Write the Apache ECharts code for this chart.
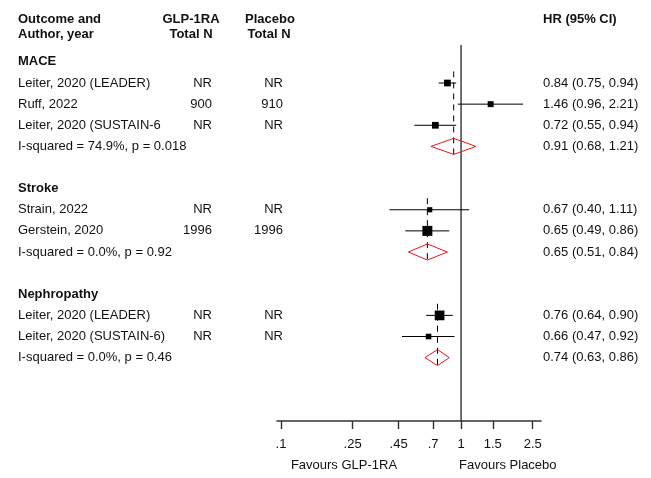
<!DOCTYPE html>
<html><head><meta charset="utf-8">
<script src="https://cdn.jsdelivr.net/npm/echarts@6/dist/echarts.min.js"></script>
<style>html,body{margin:0;padding:0;background:#fff}#c{width:651px;height:478px}</style>
</head><body><div id="c"></div>
<script>
// ---- data ----
const rowLabels = ['MACE','Leiter, 2020 (LEADER)','Ruff, 2022','Leiter, 2020 (SUSTAIN-6','I-squared = 74.9%, p = 0.018','',
  'Stroke','Strain, 2022','Gerstein, 2020','I-squared = 0.0%, p = 0.92','',
  'Nephropathy','Leiter, 2020 (LEADER)','Leiter, 2020 (SUSTAIN-6)','I-squared = 0.0%, p = 0.46'];
const rowType = ['group','study','study','study','pooled','blank','group','study','study','pooled','blank','group','study','study','pooled'];
const glpN     = ['','NR','900','NR','','','','NR','1996','','','','NR','NR',''];
const placeboN = ['','NR','910','NR','','','','NR','1996','','','','NR','NR',''];
const hr = [null,0.84,1.46,0.72,0.91,null,null,0.67,0.65,0.65,null,null,0.76,0.66,0.74];
const lo = [null,0.75,0.96,0.55,0.68,null,null,0.40,0.49,0.51,null,null,0.64,0.47,0.63];
const hi = [null,0.94,2.21,0.94,1.21,null,null,1.11,0.86,0.84,null,null,0.90,0.92,0.86];
const weight = [null,36,28,36,null,null,null,21,79,null,null,null,75,25,null];
const xTicks = [0.1,0.25,0.45,0.7,1,1.5,2.5];
const xTickLabels = ['.1','.25','.45','.7','1','1.5','2.5'];
const headers = {outcome:['Outcome and','Author, year'], glp:['GLP-1RA','Total N'], placebo:['Placebo','Total N'], hr:'HR (95% CI)'};
const favours = ['Favours GLP-1RA','Favours Placebo'];

// ---- chart ----
const FONT = '"Liberation Sans", Arial, Helvetica, sans-serif';
const TXT = '#111';
const chart = echarts.init(document.getElementById('c'), null, {renderer:'canvas'});
const rowIdx = rowLabels.map((_, i) => i);
const fmt = v => v.toFixed(2);

function txt(text, x, y, align, bold) {
  return {type:'text', x, y, silent:true,
    style:{text, fill:TXT, fontFamily:FONT, fontSize:13, fontWeight: bold ? 'bold' : 'normal', align, verticalAlign:'middle'}};
}

const marksSeries = {
  type:'custom', coordinateSystem:'cartesian2d', clip:false, silent:true, z:5,
  data: rowIdx.filter(i => hr[i] != null).map(i => [hr[i], i]),
  encode:{x:0, y:1},
  renderItem(params, api) {
    const i = api.value(1);
    const c = api.coord([hr[i], i]);
    const l = api.coord([lo[i], i]);
    const h = api.coord([hi[i], i]);
    const unit = Math.abs(api.coord([1, i + 1])[1] - c[1]);
    if (rowType[i] === 'study') {
      const s = 1.12 * Math.sqrt(weight[i]);
      return {type:'group', children:[
        {type:'line', shape:{x1:l[0], y1:c[1], x2:h[0], y2:c[1]}, style:{stroke:'#000', lineWidth:1}},
        {type:'rect', shape:{x:c[0]-s/2, y:c[1]-s/2, width:s, height:s}, style:{fill:'#000'}}
      ]};
    }
    let first = i; while (first - 1 >= 0 && rowType[first - 1] === 'study') first--;
    const top = api.coord([hr[i], first - 0.55]);
    const bot = api.coord([hr[i], i + 0.45]);
    const dh = unit * 0.38;
    return {type:'group', children:[
      {type:'line', shape:{x1:top[0], y1:top[1], x2:bot[0], y2:bot[1]}, style:{stroke:'#000', lineWidth:1, lineDash:[6,5]}},
      {type:'polygon', shape:{points:[[l[0],c[1]],[c[0],c[1]-dh],[h[0],c[1]],[c[0],c[1]+dh]]}, style:{fill:'none', stroke:'#e8161b', lineWidth:1}}
    ]};
  }
};

const textSeries = {
  type:'custom', coordinateSystem:'cartesian2d', clip:false, silent:true,
  data: rowIdx.filter(i => rowType[i] !== 'blank').map(i => [1, i]),
  encode:{x:0, y:1},
  renderItem(params, api) {
    const i = api.value(1);
    const y = api.coord([1, i])[1];
    const ch = [txt(rowLabels[i], 18, y, 'left', rowType[i] === 'group')];
    if (glpN[i]) ch.push(txt(glpN[i], 212, y, 'right'));
    if (placeboN[i]) ch.push(txt(placeboN[i], 283, y, 'right'));
    if (hr[i] != null) ch.push(txt(fmt(hr[i]) + ' (' + fmt(lo[i]) + ', ' + fmt(hi[i]) + ')', 543, y, 'left'));
    return {type:'group', children:ch};
  }
};

const option = {
  animation:false,
  backgroundColor:'#fff',
  textStyle:{fontFamily:FONT},
  grid:{left:277, right:110, top:45, bottom:57, containLabel:false, outerBoundsMode:'none'},
  xAxis:{
    type:'log', logBase:10, min:0.095, max:2.78, position:'bottom',
    axisLine:{show:true, onZero:false, lineStyle:{color:'#333', width:1.6}},
    axisTick:{show:true, customValues:xTicks, length:8, lineStyle:{color:'#333', width:1.4}},
    axisLabel:{show:true, customValues:xTicks, margin:17, color:TXT, fontSize:13, fontFamily:FONT,
      formatter: v => { const k = xTicks.findIndex(t => Math.abs(t - v) / t < 1e-6); return k >= 0 ? xTickLabels[k] : ''; }},
    splitLine:{show:false}, minorTick:{show:false}
  },
  yAxis:{type:'value', min:-0.8, max:17, inverse:true, show:false, splitLine:{show:false}},
  graphic:[
    txt(headers.outcome[0], 18, 19, 'left', true),
    txt(headers.outcome[1], 18, 34, 'left', true),
    txt(headers.glp[0], 191, 19, 'center', true),
    txt(headers.glp[1], 191, 34, 'center', true),
    txt(headers.placebo[0], 270, 19, 'center', true),
    txt(headers.placebo[1], 269, 34, 'center', true),
    txt(headers.hr, 543, 19, 'left', true),
    txt(favours[0], 344, 465, 'center'),
    txt(favours[1], 459, 465, 'left')
  ],
  series:[
    {type:'line', data:[[1,-0.8],[1,17]], symbol:'none', silent:true, z:3, lineStyle:{color:'#222', width:1.3}},
    marksSeries,
    textSeries
  ]
};
chart.setOption(option);
</script></body></html>
